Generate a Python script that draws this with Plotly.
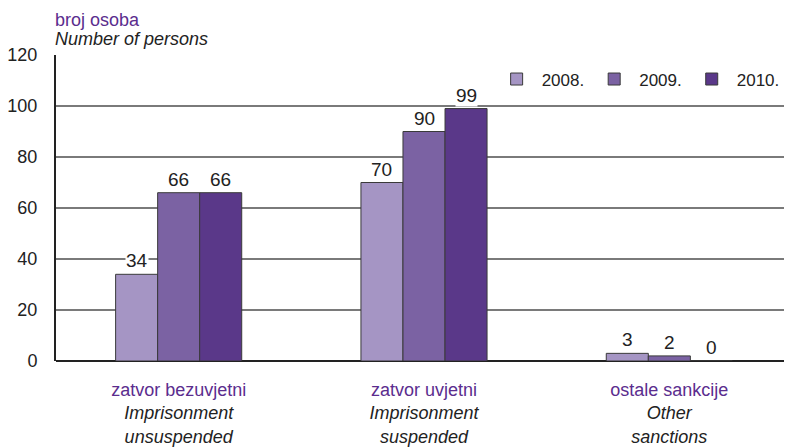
import plotly.graph_objects as go

categories = ["zatvor bezuvjetni", "zatvor uvjetni", "ostale sankcije"]
categories_en = [["Imprisonment", "unsuspended"], ["Imprisonment", "suspended"], ["Other", "sanctions"]]
years = ["2008.", "2009.", "2010."]
values = {
    "2008.": [34, 70, 3],
    "2009.": [66, 90, 2],
    "2010.": [66, 99, 0],
}
colors = ["#A595C4", "#7B62A3", "#5A3889"]
y_ticks = [0, 20, 40, 60, 80, 100, 120]

PURPLE = "#5B2D8E"
FONT = "Liberation Sans"

fig = go.Figure()
for yr, col in zip(years, colors):
    fig.add_trace(go.Bar(
        name=yr, x=list(range(len(categories))), y=values[yr],
        marker=dict(color=col, line=dict(color="#3a3a3a", width=1)),
    ))

bar_w = (1 - 0.486) / 3
for i, yr in enumerate(years):
    off = (i - 1) * bar_w
    for j, v in enumerate(values[yr]):
        fig.add_annotation(x=j + off, y=v, xref="x", yref="y", text=str(v),
                           showarrow=False, yanchor="bottom", yshift=2,
                           bgcolor="white", borderpad=0,
                           font=dict(family=FONT, size=19, color="#222"))

ticktext = [f"<span style='color:{PURPLE}'>{c}</span><br><i>{e[0]}</i><br><i>{e[1]}</i>"
            for c, e in zip(categories, categories_en)]

# page body has an 8px default margin: figure is placed at (8, 8)
fig.update_layout(
    width=784, height=440,
    margin=dict(l=48, r=0, t=47, b=87),
    paper_bgcolor="white", plot_bgcolor="white",
    barmode="group", bargap=0.486, bargroupgap=0,
    font=dict(family=FONT, size=17, color="#222"),
    showlegend=True,
    legend=dict(orientation="h", x=0.99, y=0.92, xanchor="right", yanchor="middle",
                bgcolor="white", font=dict(family=FONT, size=17, color="#222"),
                itemwidth=40, traceorder="normal"),
    xaxis=dict(tickmode="array", tickvals=list(range(len(categories))), ticktext=ticktext,
               range=[-0.5, 2.5], showgrid=False, showline=False, ticks="",
               ticklabelstandoff=16, automargin=False,
               tickfont=dict(family=FONT, size=18, color="#222"), zeroline=False),
    yaxis=dict(range=[0, 120], tickvals=y_ticks, showgrid=True, gridcolor="#7a7a7a",
               gridwidth=1.5, showline=True, linecolor="#222", linewidth=2,
               zeroline=True, zerolinecolor="#222", zerolinewidth=2,
               ticks="", ticklabelstandoff=13, automargin=False,
               tickfont=dict(family=FONT, size=18, color="#222")),
)

fig.add_annotation(text=f"<span style='color:{PURPLE}'>broj osoba</span>", xref="paper", yref="paper",
                   x=0, y=1, xanchor="left", yanchor="bottom", yshift=23, xshift=-3, showarrow=False,
                   font=dict(family=FONT, size=18))
fig.add_annotation(text="<i>Number of persons</i>", xref="paper", yref="paper",
                   x=0, y=1, xanchor="left", yanchor="bottom", yshift=4, xshift=-3, showarrow=False,
                   font=dict(family=FONT, size=18, color="#222"))

fig.write_html("out.html")
